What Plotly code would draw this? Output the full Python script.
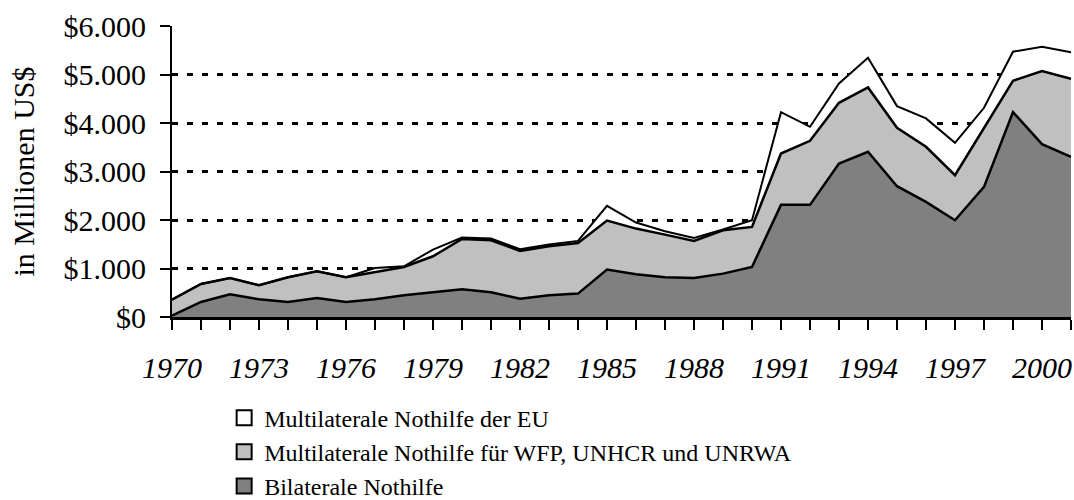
import plotly.graph_objects as go

years = list(range(1970, 2002))
bilateral = [30, 310, 468, 365, 310, 392, 310, 365, 447, 502,
             571, 509, 378, 447, 482, 977, 881, 819, 805, 894,
             1032, 2312, 2312, 3165, 3406, 2697, 2374, 1995, 2683, 4224,
             3564, 3302]
multilateral = [328, 371, 337, 289, 509, 551, 509, 557, 585, 750,
                1039, 1073, 984, 1012, 1045, 1011, 942, 880, 764, 895,
                826, 1059, 1321, 1252, 1327, 1204, 1135, 929, 1204, 647,
                1507, 1610]
eu = [0, 0, 0, 0, 0, 0, 0, 89, 14, 138,
      27, 35, 35, 34, 42, 303, 124, 69, 62, 14,
      137, 853, 289, 399, 613, 447, 585, 667, 427, 599,
      502, 544]

series_names = ["Bilaterale Nothilfe",
                "Multilaterale Nothilfe für WFP, UNHCR und UNRWA",
                "Multilaterale Nothilfe der EU"]
series_colors = ["#808080", "#c0c0c0", "#ffffff"]
series_values = [bilateral, multilateral, eu]

y_tick_values = [0, 1000, 2000, 3000, 4000, 5000, 6000]
y_tick_labels = ["$0", "$1.000", "$2.000", "$3.000", "$4.000", "$5.000", "$6.000"]

FONT = "Liberation Serif, Times New Roman, serif"

fig = go.Figure()
line_widths = [2.5, 2.5, 2]
for name, color, vals, lw in zip(series_names, series_colors, series_values, line_widths):
    fig.add_trace(go.Scatter(
        x=years, y=vals, name=name, mode="lines", stackgroup="one",
        fillcolor=color, line=dict(color="black", width=lw),
        showlegend=False,
    ))

# legend entries (square swatches), top to bottom: EU, multilateral, bilateral
for i, (name, color) in enumerate(reversed(list(zip(series_names, series_colors)))):
    fig.add_trace(go.Scatter(
        x=[None], y=[None], mode="markers", name=name,
        marker=dict(symbol="square", size=15, color=color,
                    line=dict(color="black", width=2)),
        legendgroup=f"g{i}", showlegend=True,
    ))

fig.update_layout(
    width=1074, height=500,
    margin=dict(l=172, r=3, t=26, b=183, autoexpand=False),
    paper_bgcolor="white", plot_bgcolor="white",
    font=dict(family=FONT, color="black", size=24),
    legend=dict(x=0.058, y=-0.27, xanchor="left", yanchor="top",
                traceorder="grouped", tracegroupgap=0,
                font=dict(family=FONT, size=24, color="black"),
                bgcolor="rgba(0,0,0,0)"),
    showlegend=True,
)

fig.update_xaxes(
    range=[1970, 2001], tick0=1970, dtick=3,
    showline=True, linecolor="black", linewidth=2.5,
    ticks="outside", ticklen=10, tickwidth=2, tickcolor="black",
    tickfont=dict(family=FONT, size=30, style="italic", color="black"),
    ticklabelstandoff=12,
    minor=dict(dtick=1, tick0=1970, ticks="outside", ticklen=10,
               tickwidth=2, tickcolor="black", showgrid=False),
    showgrid=False, zeroline=False,
)
fig.update_yaxes(
    range=[0, 6000], tickvals=y_tick_values, ticktext=y_tick_labels,
    showline=True, linecolor="black", linewidth=2,
    ticks="outside", ticklen=10, tickwidth=2, tickcolor="black",
    tickfont=dict(family=FONT, size=30, color="black"),
    ticklabelstandoff=8,
    showgrid=True, gridcolor="black", gridwidth=2.5, griddash="6px,9px",
    zeroline=False,
    title=dict(text="in Millionen US$", font=dict(family=FONT, size=30, color="black"),
               standoff=20),
)

# remove the browser's default 8px body margin so the figure fills the window
fig.write_html("out.html",
               config={"displayModeBar": False},
               post_script="document.body.style.margin='0';"
                           "document.documentElement.style.overflow='hidden';")
